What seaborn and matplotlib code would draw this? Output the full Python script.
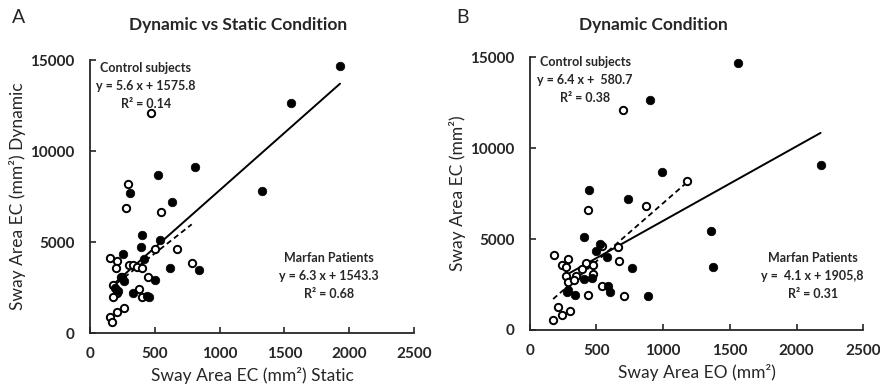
import numpy as np
import pandas as pd
import seaborn as sns
import matplotlib.pyplot as plt

# Panel A: static (x) vs dynamic (y) sway area, eyes closed
a_marfan_x = [1930, 1550, 1330, 810, 525, 310, 635, 405, 390, 540, 255, 420,
              620, 840, 500, 250, 265, 195, 335, 440, 455, 215]
a_marfan_y = [14700, 12650, 7800, 9100, 8700, 7700, 7200, 5400, 4750, 5100, 4350, 4050,
              3550, 3450, 2900, 3100, 2850, 2450, 2200, 2050, 2000, 2300]
a_control_x = [470, 295, 280, 550, 505, 675, 155, 210, 200, 300, 330, 360, 400, 785,
               445, 180, 210, 175, 380, 405, 265, 212, 155, 172, 237]
a_control_y = [12100, 8200, 6850, 6650, 4600, 4600, 4150, 3950, 3550, 3750, 3750, 3650,
               3550, 3850, 3100, 2650, 2200, 2000, 2400, 2000, 1350, 1150, 880, 620, 3100]

# Panel B: eyes open (x) vs eyes closed (y), dynamic
b_marfan_x = [1560, 900, 2180, 990, 445, 735, 1360, 405, 525, 500, 580, 765, 1375,
              410, 470, 590, 600, 340, 885, 290, 280]
b_marfan_y = [14700, 12650, 9050, 8700, 7700, 7200, 5450, 5100, 4750, 4350, 4000, 3400,
              3450, 2800, 2850, 2400, 2100, 1950, 1850, 2200, 2100]
b_control_x = [700, 1180, 870, 435, 660, 670, 540, 180, 290, 240, 275, 420, 475, 390,
               270, 350, 475, 290, 330, 540, 435, 710, 210, 245, 300, 175]
b_control_y = [12100, 8200, 6800, 6600, 4550, 3800, 4600, 4150, 3900, 3600, 3450, 3700,
               3600, 3350, 2950, 2950, 3100, 2650, 2750, 2400, 1950, 1850, 1250, 800,
               1050, 550]

# regression equations printed on the figure (slope, intercept)
a_control_fit = (5.6, 1575.8)
a_marfan_fit = (6.3, 1543.3)
b_control_fit = (6.4, 580.7)
b_marfan_fit = (4.1, 1905.8)

a_control_text = "Control subjects\ny = 5.6 x + 1575.8\nR² = 0.14"
a_marfan_text = "Marfan Patients\ny = 6.3 x + 1543.3\nR² = 0.68"
b_control_text = "Control subjects\ny = 6.4 x +  580.7\nR² = 0.38"
b_marfan_text = "Marfan Patients\ny =  4.1 x + 1905,8\nR² = 0.31"

x_ticks = [0, 500, 1000, 1500, 2000, 2500]
y_ticks = [0, 5000, 10000, 15000]

sns.set_style("ticks")
plt.rcParams["font.family"] = ["Lato", "DejaVu Sans"]


def to_frame(cx, cy, mx, my):
    df_c = pd.DataFrame({"x": cx, "y": cy, "group": "Control"})
    df_m = pd.DataFrame({"x": mx, "y": my, "group": "Marfan"})
    return df_c, df_m


def fit_line(ax, xs, fit, style):
    slope, icpt = fit
    lx = np.array([min(xs), max(xs)])
    line_df = pd.DataFrame({"x": lx, "y": slope * lx + icpt})
    sns.lineplot(data=line_df, x="x", y="y", ax=ax, color="black",
                 linestyle=style, linewidth=1.4 if style == "-" else 1.3)


def draw_panel(ax, cx, cy, mx, my, cfit, mfit, ctext, mtext, xlabel, ylabel,
               ctext_xy, mtext_xy):
    df_c, df_m = to_frame(cx, cy, mx, my)
    sns.scatterplot(data=df_c, x="x", y="y", ax=ax, marker="o", s=28,
                    facecolor="white", edgecolor="black", linewidth=1.4, zorder=3)
    sns.scatterplot(data=df_m, x="x", y="y", ax=ax, marker="o", s=38,
                    color="black", edgecolor="black", linewidth=0.5, zorder=4)
    fit_line(ax, mx, mfit, "-")
    fit_line(ax, cx, cfit, (0, (3, 2)))

    ax.set_xlim(0, 2500)
    ax.set_ylim(0, 15000)
    ax.set_xticks(x_ticks)
    ax.set_yticks(y_ticks)
    ax.tick_params(axis="both", direction="in", length=4, width=1.2,
                   labelsize=11)
    ax.tick_params(axis="x", pad=10)
    ax.tick_params(axis="y", pad=11)
    for lab in ax.get_xticklabels() + ax.get_yticklabels():
        lab.set_fontweight("bold")
    ax.spines["left"].set_linewidth(1.3)
    ax.spines["bottom"].set_linewidth(1.3)
    sns.despine(ax=ax)
    ax.set_xlabel(xlabel, fontsize=12.5, labelpad=4.5)
    ax.set_ylabel(ylabel, fontsize=12.5, labelpad=3)

    ax.text(ctext_xy[0], ctext_xy[1], ctext, ha="center", va="top",
            fontsize=9, fontweight="bold", linespacing=1.6)
    ax.text(mtext_xy[0], mtext_xy[1], mtext, ha="center", va="top",
            fontsize=9, fontweight="bold", linespacing=1.6)


fig = plt.figure(figsize=(8.8, 3.85), dpi=100)
ax_a = fig.add_axes([0.1023, 0.135, 0.368, 0.709])
ax_b = fig.add_axes([0.602, 0.143, 0.379, 0.708])

draw_panel(ax_a, a_control_x, a_control_y, a_marfan_x, a_marfan_y,
           a_control_fit, a_marfan_fit, a_control_text, a_marfan_text,
           "Sway Area EC (mm²) Static", "Sway Area EC (mm²) Dynamic",
           (430, 14900), (1845, 4450))
draw_panel(ax_b, b_control_x, b_control_y, b_marfan_x, b_marfan_y,
           b_control_fit, b_marfan_fit, b_control_text, b_marfan_text,
           "Sway Area EO (mm²)", "Sway Area EC (mm²)",
           (415, 15050), (2120, 4300))

fig.text(0.271, 0.935, "Dynamic vs Static Condition", ha="center", va="center",
         fontsize=12.5, fontweight="bold")
fig.text(0.743, 0.935, "Dynamic Condition", ha="center", va="center",
         fontsize=12.5, fontweight="bold")
fig.text(0.014, 0.955, "A", ha="left", va="center", fontsize=14)
fig.text(0.518, 0.955, "B", ha="left", va="center", fontsize=14)

fig.savefig("out.png", dpi=100)
